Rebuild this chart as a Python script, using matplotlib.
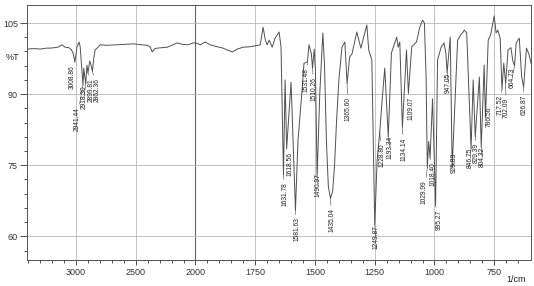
import matplotlib
matplotlib.use("Agg")
import matplotlib.pyplot as plt
from matplotlib.ticker import FixedLocator
import numpy as np

plt.rcParams['font.family'] = ['Liberation Sans', 'DejaVu Sans']

# spectrum (wavenumber 1/cm, %T)
wavenumber = [
    3410, 3350, 3300, 3250, 3218, 3180, 3151, 3118, 3092, 3060, 3040, 3025, 3015,
    3008.86, 3000, 2992, 2975, 2965, 2955, 2941.44, 2935, 2928, 2918.30, 2912, 2908,
    2899.81, 2885, 2875, 2862.36, 2852, 2840, 2815, 2798, 2740, 2656, 2590, 2521,
    2450, 2404, 2380, 2362, 2340, 2320, 2280, 2236, 2190, 2152, 2110, 2068, 2040,
    2017, 2000, 1979, 1960, 1938, 1910, 1885, 1867, 1846, 1825, 1800, 1770, 1750,
    1729, 1717, 1708, 1700, 1692, 1679, 1667, 1650, 1642, 1631.78, 1625, 1618.56,
    1600, 1581.63, 1571, 1554, 1546, 1531.48, 1525, 1515, 1510.26, 1503, 1498,
    1490.97, 1480, 1467, 1460, 1452, 1444, 1435.04, 1426, 1418, 1410, 1400, 1387,
    1375, 1365.60, 1355, 1345, 1325, 1308, 1283, 1275, 1262, 1249.87, 1240, 1228.80,
    1220, 1208, 1193.34, 1180, 1158, 1152, 1145, 1134.14, 1117, 1109.07, 1095, 1075,
    1062, 1050, 1042, 1035, 1029.99, 1024, 1018.40, 1008, 995.27, 987, 972, 960,
    952, 947.05, 934, 925.83, 903, 890, 880, 875, 865, 846.75, 838, 829.39, 812,
    804.32, 792, 786.56, 775, 765, 750, 742, 735, 725, 717.52, 710, 702.09, 692,
    680, 672, 664.73, 658, 645, 635, 626.87, 615, 605, 596,
]
transmittance = [
    99.5, 99.6, 99.5, 99.7, 99.7, 99.8, 99.9, 100.4, 99.9, 99.8, 99.4, 98.7, 97.5,
    96.8, 98.5, 99.9, 101.0, 100.0, 96.5, 91.9, 95.5, 94.0, 92.2, 95.0, 96.1,
    94.5, 97.0, 96.2, 94.8, 97.5, 99.3, 99.9, 100.4, 100.3, 100.4, 100.5, 100.6,
    100.4, 100.3, 100.0, 98.9, 99.6, 99.7, 99.8, 99.9, 100.4, 100.8, 100.5, 100.4, 100.6,
    100.8, 100.8, 100.4, 101.0, 100.4, 100.0, 99.7, 99.3, 98.9, 99.5, 99.9, 100.0, 100.2,
    100.4, 104.1, 101.5, 100.4, 101.4, 99.9, 101.8, 103.1, 99.9, 73.0, 93.0, 78.5,
    92.5, 65.5, 80.3, 90.8, 96.5, 96.8, 100.4, 98.5, 95.5, 99.5, 95.0,
    72.5, 90.0, 102.9, 96.0, 80.0, 70.5, 68.0, 69.5, 75.0, 84.0, 93.0, 99.9,
    101.0, 92.2, 97.8, 98.5, 103.1, 99.7, 104.6, 99.3, 97.2, 62.5, 76.0, 82.0,
    88.0, 95.5, 81.0, 98.7, 102.0, 99.9, 101.0, 83.0, 99.3, 90.2, 100.0, 101.0,
    104.0, 105.6, 105.0, 93.6, 74.5, 80.0, 76.5, 89.0, 66.5, 97.2, 99.9, 100.8,
    98.5, 94.5, 102.0, 74.5, 101.4, 102.5, 103.1, 103.5, 102.9, 78.5, 93.0, 81.0, 93.6,
    78.8, 96.1, 85.0, 101.4, 102.5, 106.5, 102.9, 103.5, 101.8, 91.0, 96.5, 92.3, 99.3,
    99.8, 97.0, 96.0, 100.8, 101.8, 93.6, 91.5, 99.7, 98.5, 96.5,
]

# peak labels: (wavenumber, %T at the band)
peak_wn = [3008.86, 2941.44, 2918.30, 2899.81, 2862.36, 1631.78, 1618.56, 1581.63,
           1531.48, 1510.26, 1490.97, 1435.04, 1365.60, 1249.87, 1228.80, 1193.34,
           1134.14, 1109.07, 1029.99, 1018.40, 995.27, 947.05, 925.83, 846.75,
           829.39, 804.32, 786.56, 717.52, 702.09, 664.73, 626.87]
peak_t = [96.8, 91.9, 92.2, 94.5, 94.8, 73.0, 78.5, 65.5, 96.8, 95.5, 72.5, 68.0,
          92.2, 62.5, 82.0, 81.0, 83.0, 90.2, 74.5, 76.5, 66.5, 94.5, 74.5, 78.5,
          81.0, 78.8, 85.0, 91.0, 92.3, 96.0, 91.5]
# where the label text starts (top end of the rotated text)
label_x = [3034, 2992, 2933, 2874, 2824, 1625, 1604, 1575, 1537, 1504, 1487, 1429,
           1362, 1246, 1221, 1187, 1129, 1100, 1042, 1008, 979, 942, 917, 850,
           825, 800, 771, 725, 700, 675, 625]
label_y = [96.1, 87.3, 91.9, 93.4, 93.4, 71.4, 77.7, 64.0, 95.5, 93.6, 73.3, 65.9,
           89.4, 62.3, 79.6, 81.3, 80.9, 89.4, 71.8, 75.6, 65.5, 94.6, 77.7, 78.8,
           79.6, 78.8, 87.3, 89.8, 89.2, 95.5, 89.8]


def fwd(x):
    x = np.asarray(x, dtype=float)
    return np.where(x > 2000, 2000 + (x - 2000) / 2.0, x)


def inv(t):
    t = np.asarray(t, dtype=float)
    return np.where(t > 2000, 2000 + (t - 2000) * 2.0, t)


fig = plt.figure(figsize=(5.34, 2.86), dpi=100)
ax = fig.add_axes([27 / 534, 26 / 286, 504 / 534, 255 / 286])
ax.set_xscale('function', functions=(fwd, inv))
ax.set_xlim(3410, 596)
ax.set_ylim(55, 108.8)

major_x = [3000, 2500, 2000, 1750, 1500, 1250, 1000, 750]
minor_x = list(range(3400, 2000, -100)) + list(range(1950, 600, -50))
ax.xaxis.set_major_locator(FixedLocator(major_x))
ax.xaxis.set_minor_locator(FixedLocator(minor_x))
ax.set_xticklabels([str(v) for v in major_x])
ax.yaxis.set_major_locator(FixedLocator([60, 75, 90, 105]))
ax.yaxis.set_minor_locator(FixedLocator(np.arange(57, 108, 3)))

ax.tick_params(axis='both', which='both', direction='out', colors='#333333',
               labelsize=6.5, width=0.6)
ax.tick_params(axis='x', which='major', length=3.5, pad=2)
ax.tick_params(axis='x', which='minor', length=2)
ax.tick_params(axis='y', which='major', length=5, pad=1.5)
ax.tick_params(axis='y', which='minor', length=2.5)

for v in major_x:
    if v == 2000:
        ax.axvline(v, color='#666666', lw=0.8, zorder=1)
    else:
        ax.axvline(v, color='#b8b8b8', lw=0.6, zorder=1)
for v in [60, 75, 90, 105]:
    ax.axhline(v, color='#b8b8b8', lw=0.6, zorder=1)

for s in ax.spines.values():
    s.set_color('#555555')
    s.set_linewidth(0.7)

ax.plot(wavenumber, transmittance, color='#505050', lw=0.7, zorder=3)

for w, t, lx, ly in zip(peak_wn, peak_t, label_x, label_y):
    ax.annotate(f"{w:.2f}", xy=(w, t), xytext=(lx, ly), rotation=90,
                ha='center', va='top', fontsize=4.8, color='#222222', zorder=4,
                arrowprops=dict(arrowstyle='-', color='#444444', lw=0.4,
                                shrinkA=0, shrinkB=0))

fig.text(12 / 534, 1 - 58 / 286, "%T", fontsize=6.5, ha='center', va='center',
         color='#222222')
fig.text(516 / 534, 1 - 279 / 286, "1/cm", fontsize=6.5, ha='center',
         va='center', color='#222222')

fig.savefig("out.png", dpi=100)
